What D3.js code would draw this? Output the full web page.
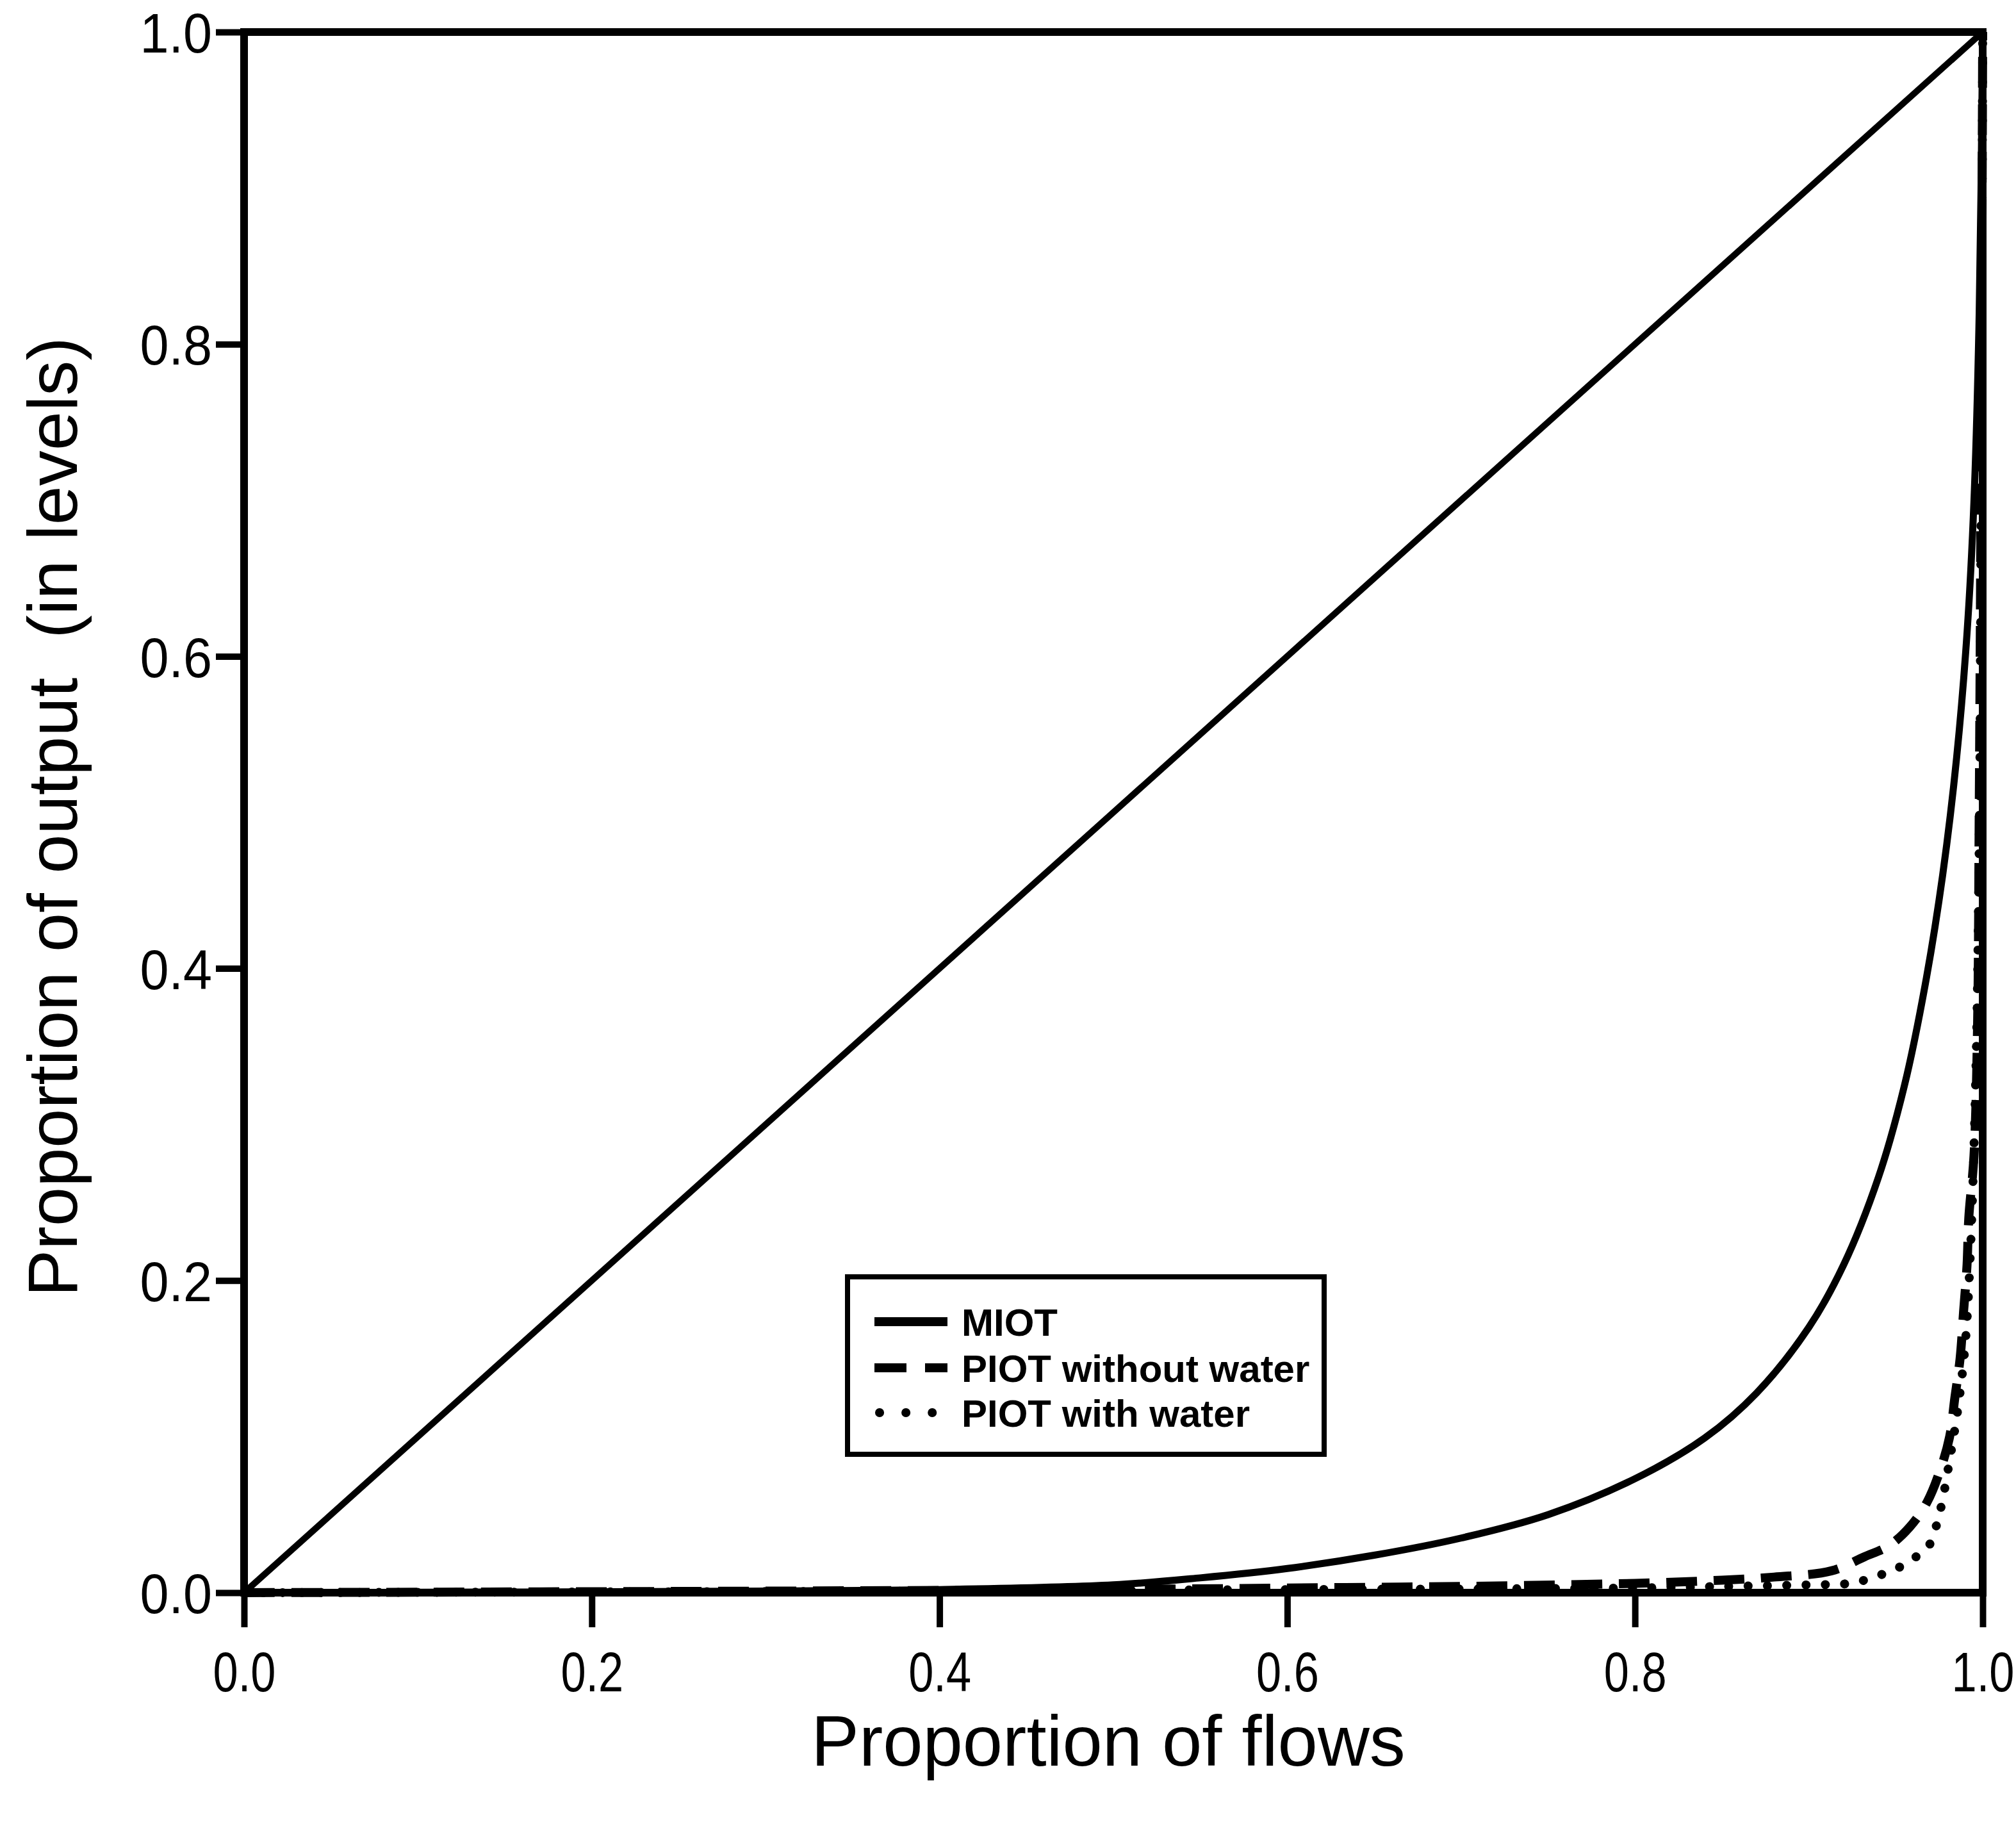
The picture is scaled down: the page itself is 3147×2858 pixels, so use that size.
<!DOCTYPE html>
<html>
<head>
<meta charset="utf-8">
<script src="https://cdn.jsdelivr.net/npm/d3@7"></script>
<style>
  html, body { margin: 0; padding: 0; background: #fff; }
  svg { display: block; }
  text { font-family: "Liberation Sans", Arial, Helvetica, sans-serif; fill: #000; }
</style>
</head>
<body>
<svg id="chart" width="3147" height="2858"></svg>
<script>
// Cumulative share of flows (x) against cumulative share of output (y)
const tickValues = [0, 0.2, 0.4, 0.6, 0.8, 1.0];

// Line of equality
const equalityX = [0, 1];
const equalityY = [0, 1];

// MIOT
const miotX = [0, 0.30, 0.40, 0.50, 0.55, 0.60, 0.65, 0.70, 0.75, 0.80, 0.84, 0.87, 0.90, 0.92, 0.94, 0.955, 0.967, 0.977, 0.985, 0.991, 0.995, 0.998, 1.0];
const miotY = [0, 0.001, 0.002, 0.005, 0.0095, 0.0155, 0.024, 0.035, 0.050, 0.073, 0.099, 0.128, 0.170, 0.210, 0.266, 0.325, 0.390, 0.460, 0.535, 0.615, 0.700, 0.820, 1.0];

// PIOT without water
const pioNoWaterX = [0, 0.30, 0.50, 0.60, 0.70, 0.80, 0.85, 0.88, 0.913, 0.932, 0.946, 0.958, 0.968, 0.976, 0.981, 0.984, 0.987, 0.989, 0.991, 0.992, 0.995, 0.997, 0.998, 0.999, 1.0];
const pioNoWaterY = [0, 0.001, 0.002, 0.003, 0.004, 0.006, 0.008, 0.010, 0.014, 0.023, 0.030, 0.042, 0.058, 0.080, 0.100, 0.125, 0.150, 0.180, 0.210, 0.240, 0.280, 0.360, 0.500, 0.700, 1.0];

// PIOT with water
const pioWaterX = [0, 0.40, 0.60, 0.80, 0.85, 0.90, 0.924, 0.935, 0.945, 0.955, 0.964, 0.969, 0.975, 0.981, 0.986, 0.990, 0.993, 0.996, 0.998, 0.999, 1.0];
const pioWaterY = [0, 0.001, 0.002, 0.003, 0.004, 0.005, 0.006, 0.009, 0.013, 0.018, 0.025, 0.030, 0.050, 0.085, 0.120, 0.160, 0.220, 0.330, 0.480, 0.680, 1.0];

const legendLabels = ["MIOT", "PIOT without water", "PIOT with water"];
const xTitle = "Proportion of flows";
const yTitle = "Proportion of output\u00a0\u00a0(in levels)";

const svg = d3.select("#chart");
svg.append("rect").attr("width", 3147).attr("height", 2858).attr("fill", "#fff");

const x = d3.scaleLinear().domain([0, 1]).range([381, 3095]);
const y = d3.scaleLinear().domain([0, 1]).range([2486, 50]);

const zip = (xs, ys) => xs.map((v, i) => [v, ys[i]]);
const line = d3.line()
  .x(d => x(d[0]))
  .y(d => y(d[1]))
  .curve(d3.curveCatmullRom.alpha(0.5));

// Axes with outward ticks
const fmt = d3.format(".1f");
const xScaleText = 0.8, yScaleText = 0.92;

const gx = svg.append("g")
  .attr("transform", `translate(0,${y(0)})`)
  .call(d3.axisBottom(x).tickValues(tickValues).tickSize(54).tickPadding(38).tickFormat(fmt));
const gy = svg.append("g")
  .attr("transform", `translate(${x(0)},0)`)
  .call(d3.axisLeft(y).tickValues(tickValues).tickSize(44).tickPadding(6).tickFormat(fmt));

[gx, gy].forEach(g => {
  g.select(".domain").remove();
  g.attr("font-size", 88).attr("font-family", null);
  g.selectAll(".tick line").attr("stroke", "#000").attr("stroke-width", 10);
  g.selectAll(".tick text").attr("fill", "#000");
});
gx.selectAll(".tick text").attr("transform", `scale(${xScaleText},1)`);
gy.selectAll(".tick text")
  .attr("x", -50 / yScaleText)
  .attr("dy", "0.36em")
  .attr("transform", `scale(${yScaleText},1)`);

// Curves
const plot = svg.append("g").attr("fill", "none").attr("stroke", "#000");

plot.append("path")
  .attr("d", line(zip(equalityX, equalityY)))
  .attr("stroke-width", 10);

plot.append("path")
  .attr("d", line(zip(miotX, miotY)))
  .attr("stroke-width", 11);

plot.append("path")
  .attr("d", line(zip(pioNoWaterX, pioNoWaterY)))
  .attr("stroke-width", 14)
  .attr("stroke-dasharray", "48,26");

plot.append("path")
  .attr("d", line(zip(pioWaterX, pioWaterY)))
  .attr("stroke-width", 14)
  .attr("stroke-linecap", "round")
  .attr("stroke-dasharray", "0.1,30");

// Frame
svg.append("rect")
  .attr("x", x(0)).attr("y", y(1))
  .attr("width", x(1) - x(0)).attr("height", y(0) - y(1))
  .attr("fill", "none").attr("stroke", "#000").attr("stroke-width", 12);

// Axis titles
svg.append("text")
  .attr("x", 1730).attr("y", 2756)
  .attr("text-anchor", "middle")
  .attr("font-size", 112)
  .text(xTitle);

svg.append("text")
  .attr("transform", "translate(120,1275) rotate(-90)")
  .attr("text-anchor", "middle")
  .attr("font-size", 110)
  .text(yTitle);

// Legend
const legend = svg.append("g");
legend.append("rect")
  .attr("x", 1323).attr("y", 1993)
  .attr("width", 744).attr("height", 277)
  .attr("fill", "#fff").attr("stroke", "#000").attr("stroke-width", 8);

const rowY = [2063, 2135, 2205];
const sampleStyles = [
  { dash: null, cap: "butt", x0: 1365, x1: 1479 },
  { dash: "50,29", cap: "butt", x0: 1365, x1: 1479 },
  { dash: "0.1,41", cap: "round", x0: 1373, x1: 1456 }
];
legendLabels.forEach((label, i) => {
  const s = sampleStyles[i];
  legend.append("line")
    .attr("x1", s.x0).attr("x2", s.x1)
    .attr("y1", rowY[i]).attr("y2", rowY[i])
    .attr("stroke", "#000").attr("stroke-width", 14)
    .attr("stroke-linecap", s.cap)
    .attr("stroke-dasharray", s.dash);
  legend.append("text")
    .attr("x", 1501).attr("y", rowY[i])
    .attr("dy", "0.36em")
    .attr("font-size", 60)
    .attr("font-weight", "bold")
    .text(label);
});
</script>
</body>
</html>
